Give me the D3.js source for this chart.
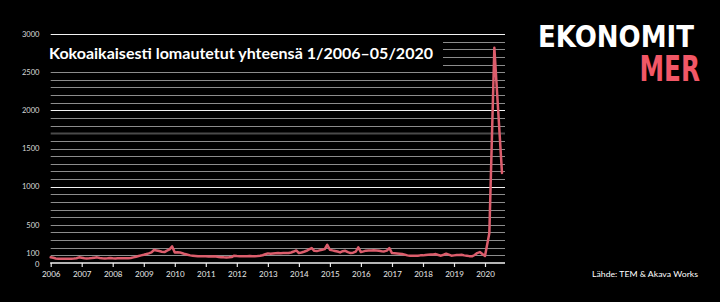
<!DOCTYPE html>
<html><head><meta charset="utf-8">
<script src="https://cdn.jsdelivr.net/npm/d3@7"></script>
<style>
html,body{margin:0;padding:0;background:#000;}
svg{display:block;}
</style></head>
<body>
<svg id="c" width="720" height="302"></svg>
<script>
// ---- data ----
const title = "Kokoaikaisesti lomautetut yhteensä 1/2006–05/2020";
const source = "Lähde: TEM & Akava Works";
const yTickLabels = [0, 100, 500, 1000, 1500, 2000, 2500, 3000];
const xTickYears = [2006,2007,2008,2009,2010,2011,2012,2013,2014,2015,2016,2017,2018,2019,2020];
const v2006 = [75, 68, 60, 56, 55, 55, 55, 56, 57, 58, 63, 74];
const v2007 = [68, 62, 60, 62, 65, 70, 74, 66, 62, 60, 62, 66];
const v2008 = [62, 60, 61, 62, 62, 62, 63, 66, 74, 82, 92, 100];
const v2009 = [108, 117, 126, 139, 170, 165, 158, 148, 143, 162, 178, 217];
const v2010 = [139, 142, 139, 128, 117, 108, 100, 96, 92, 88, 87, 87];
const v2011 = [87, 86, 85, 87, 84, 80, 76, 74, 73, 74, 78, 96];
const v2012 = [92, 90, 88, 90, 90, 92, 88, 90, 92, 96, 102, 115];
const v2013 = [126, 122, 125, 128, 130, 128, 130, 132, 130, 138, 150, 165];
const v2014 = [130, 138, 148, 160, 178, 196, 160, 156, 165, 174, 182, 239];
const v2015 = [174, 165, 158, 150, 139, 155, 160, 142, 130, 135, 150, 204];
const v2016 = [143, 152, 162, 165, 165, 166, 164, 160, 155, 152, 162, 196];
const v2017 = [130, 128, 125, 122, 118, 110, 100, 96, 95, 95, 95, 100];
const v2018 = [100, 105, 108, 110, 112, 117, 105, 96, 108, 122, 110, 96];
const v2019 = [100, 104, 106, 108, 100, 95, 90, 87, 105, 130, 143, 117];
const dates2020 = ["2020-01-01", "2020-02-21", "2020-04-20", "2020-07-19"];
const v2020 = [92, 390, 2820, 1180];

// ---- build series ----
const monthly = [v2006,v2007,v2008,v2009,v2010,v2011,v2012,v2013,v2014,v2015,v2016,v2017,v2018,v2019];
const data = [];
monthly.forEach((arr, yi) => arr.forEach((v, m) => data.push({d: new Date(2006 + yi, m, 1), v})));
dates2020.forEach((s, i) => data.push({d: d3.isoParse(s + "T00:00:00"), v: v2020[i]}));

const svg = d3.select("#c");
svg.append("rect").attr("width", 720).attr("height", 302).attr("fill", "#000");

const x = d3.scaleTime().domain([new Date(2006,0,1), new Date(2020,0,1)]).range([50.7, 485]);
const y = d3.scaleLinear().domain([0, 3000]).range([263, 34]);
const plotLeft = 50.7, plotRight = 505;

// gridlines
const grid = d3.range(100, 3001, 100);
svg.append("g").selectAll("line").data(grid).join("line")
  .attr("x1", plotLeft).attr("x2", plotRight)
  .attr("y1", d => Math.round(y(d)) + 0.5).attr("y2", d => Math.round(y(d)) + 0.5)
  .attr("stroke", d => d % 1000 === 0 ? "#f2f2f2" : (d === 1700 ? "#4a4a4a" : "#8c8c8c"))
  .attr("stroke-width", d => d === 1700 ? 2 : 1);

// title with black background
svg.append("rect").attr("x", 45).attr("y", 38).attr("width", 398).attr("height", 30).attr("fill", "#000");
svg.append("text").attr("x", 49).attr("y", 59.3)
  .attr("font-family", "Lato, 'Open Sans', sans-serif").attr("font-weight", 700)
  .attr("font-size", 16).attr("fill", "#fff")
  .attr("textLength", 384).attr("lengthAdjust", "spacingAndGlyphs")
  .text(title);

// y labels
svg.append("g").selectAll("text").data(yTickLabels).join("text")
  .attr("x", 39.5).attr("y", d => d === 0 ? y(d) + 4.2 : (d === 100 ? y(d) + 0.8 : y(d) + 2.8))
  .attr("text-anchor", "end")
  .attr("font-family", "Lato, sans-serif").attr("font-size", 7.6).attr("fill", "#d8d8d8")
  .text(d => d);

// x axis
const xAxis = d3.axisBottom(x)
  .tickValues(xTickYears.map(yr => new Date(yr, 0, 1)))
  .tickFormat(d3.timeFormat("%Y"))
  .tickSize(4).tickSizeOuter(0);
const gx = svg.append("g").attr("transform", "translate(0,263)").call(xAxis);
gx.select(".domain").remove();
gx.selectAll(".tick line").attr("stroke", "#e8e8e8").attr("stroke-width", 1.2);
gx.selectAll(".tick text").attr("fill", "#e8e8e8").attr("font-family", "Lato, sans-serif")
  .attr("font-size", 8).attr("dy", 0).attr("y", 14);
svg.append("line").attr("x1", plotLeft - 0.5).attr("x2", plotRight).attr("y1", 263).attr("y2", 263)
  .attr("stroke", "#f2f2f2").attr("stroke-width", 1.4);

// line
const line = d3.line().x(d => x(d.d)).y(d => y(d.v));
svg.append("path").datum(data).attr("d", line)
  .attr("fill", "none").attr("stroke", "#dc5d6c").attr("stroke-width", 2.5)
  .attr("stroke-linejoin", "round").attr("stroke-linecap", "round");

// logo
svg.append("text").attr("x", 538).attr("y", 47)
  .attr("font-family", "'DejaVu Sans', Roboto, sans-serif").attr("font-weight", 700)
  .attr("font-stretch", "condensed")
  .attr("font-size", 30).attr("fill", "#fff")
  .attr("textLength", 156).attr("lengthAdjust", "spacingAndGlyphs")
  .text("EKONOMIT");
svg.append("text").attr("x", 639.5).attr("y", 80.5)
  .attr("font-family", "'DejaVu Sans', Roboto, sans-serif").attr("font-weight", 700)
  .attr("font-stretch", "condensed")
  .attr("font-size", 35).attr("fill", "#f25766")
  .attr("textLength", 60.5).attr("lengthAdjust", "spacingAndGlyphs")
  .text("MER");

// source
svg.append("text").attr("x", 592).attr("y", 277)
  .attr("font-family", "Lato, sans-serif").attr("font-size", 7.6).attr("fill", "#fff")
  .attr("textLength", 106).attr("lengthAdjust", "spacingAndGlyphs")
  .text(source);
</script>
</body></html>
